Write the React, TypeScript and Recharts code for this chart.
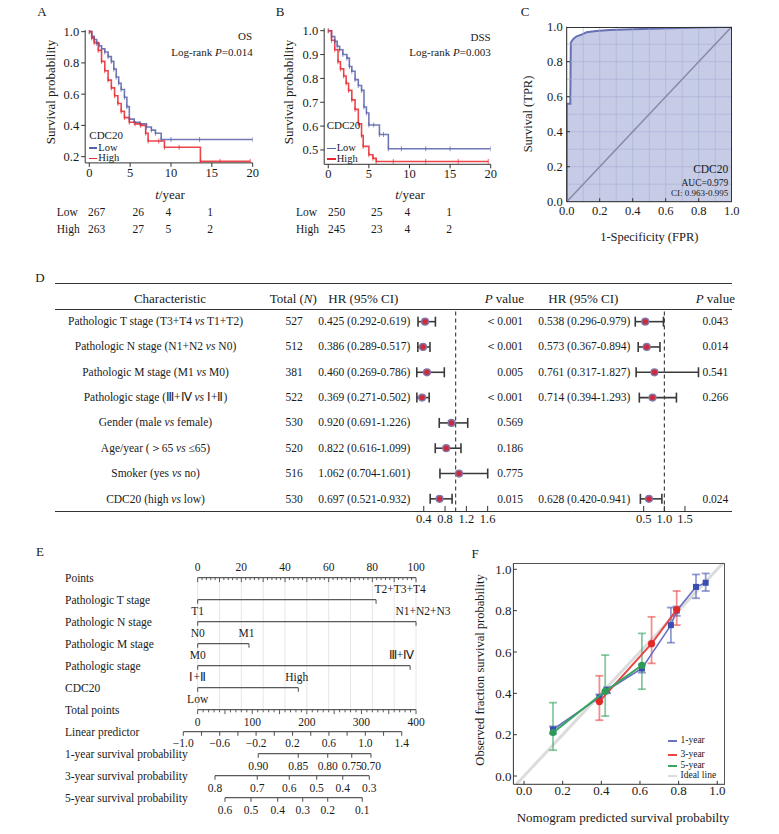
import React from "react";
import {
  LineChart,
  Line,
  AreaChart,
  Area,
  ScatterChart,
  Scatter,
  ComposedChart,
  XAxis,
  YAxis,
  ErrorBar,
  ReferenceLine,
  ReferenceDot,
} from "recharts";

const FONT = '"Liberation Serif", "Times New Roman", serif';
const INK = "#1a1a1a";
const KM_BLUE = "#5862aa";
const KM_RED = "#e8262d";

// ---- A: overall survival (Kaplan-Meier) ----
const osLowT = [0, 0.3, 0.6, 0.9, 1.2, 1.5, 1.9, 2.3, 2.7, 3.0, 3.3, 3.6, 3.9, 4.3, 4.6, 4.9, 5.5, 6.2, 7.0, 7.6, 8.1, 8.8, 10, 13.5, 20];
const osLowS = [1, 0.97, 0.95, 0.925, 0.91, 0.89, 0.87, 0.84, 0.81, 0.76, 0.71, 0.67, 0.63, 0.58, 0.52, 0.44, 0.42, 0.41, 0.39, 0.37, 0.35, 0.31, 0.31, 0.31, 0.31];
const osHighT = [0, 0.3, 0.6, 1.1, 1.5, 1.9, 2.3, 2.7, 3.1, 3.5, 3.9, 4.3, 4.9, 5.6, 6.3, 6.9, 7.2, 8.5, 9.2, 11, 13.6, 16, 19.7];
const osHighS = [1, 0.96, 0.93, 0.88, 0.81, 0.75, 0.69, 0.64, 0.59, 0.54, 0.49, 0.45, 0.42, 0.41, 0.4, 0.35, 0.3, 0.3, 0.26, 0.26, 0.17, 0.17, 0.17];
const osRiskLow = [267, 26, 4, 1];
const osRiskHigh = [263, 27, 5, 2];

// ---- B: disease-specific survival ----
const dssLowT = [0, 0.4, 0.8, 1.1, 1.4, 1.8, 2.3, 2.6, 2.9, 3.3, 3.7, 4.1, 4.4, 4.7, 5.0, 5.6, 6.3, 6.8, 7.4, 9, 12, 15, 20];
const dssLowS = [1, 0.975, 0.955, 0.935, 0.92, 0.9, 0.885, 0.85, 0.83, 0.795, 0.77, 0.75, 0.68, 0.655, 0.605, 0.605, 0.565, 0.565, 0.505, 0.505, 0.505, 0.505, 0.505];
const dssHighT = [0, 0.4, 0.8, 1.2, 1.5, 1.9, 2.2, 2.5, 2.9, 3.3, 3.7, 4.1, 4.3, 5.0, 5.5, 5.9, 8, 12, 16, 19.7];
const dssHighS = [1, 0.96, 0.92, 0.87, 0.84, 0.81, 0.78, 0.75, 0.71, 0.67, 0.61, 0.56, 0.515, 0.48, 0.465, 0.452, 0.452, 0.452, 0.452, 0.452];
const dssRiskLow = [250, 25, 4, 1];
const dssRiskHigh = [245, 23, 4, 2];

// ---- C: ROC ----
const rocFpr = [0, 0, 0.022, 0.022, 0.025, 0.04, 0.06, 0.09, 0.12, 0.18, 0.26, 0.4, 0.57, 0.8, 1];
const rocTpr = [0, 0.56, 0.56, 0.6, 0.91, 0.93, 0.945, 0.955, 0.968, 0.975, 0.981, 0.985, 0.99, 0.995, 1];
const unitTicks = [0, 0.2, 0.4, 0.6, 0.8, 1.0];

// ---- D: Cox regression ----
const characteristics = [
  "Pathologic T stage (T3+T4 | T1+T2)",
  "Pathologic N stage (N1+N2 | N0)",
  "Pathologic M stage (M1 | M0)",
  "Pathologic stage (Ⅲ+Ⅳ |  Ⅰ+Ⅱ)",
  "Gender (male | female)",
  "Age/year (＞65 | ≤65)",
  "Smoker (yes | no)",
  "CDC20 (high | low)",
];
const totals = [527, 512, 381, 522, 530, 520, 516, 530];
const uniHr = [0.425, 0.386, 0.46, 0.369, 0.92, 0.822, 1.062, 0.697];
const uniLo = [0.292, 0.289, 0.269, 0.271, 0.691, 0.616, 0.704, 0.521];
const uniHi = [0.619, 0.517, 0.786, 0.502, 1.226, 1.099, 1.601, 0.932];
const uniP = ["＜0.001", "＜0.001", "0.005", "＜0.001", "0.569", "0.186", "0.775", "0.015"];
const multiRow = [0, 1, 2, 3, 7];
const multiHr = [0.538, 0.573, 0.761, 0.714, 0.628];
const multiLo = [0.296, 0.367, 0.317, 0.394, 0.42];
const multiHi = [0.979, 0.894, 1.827, 1.293, 0.941];
const multiP = ["0.043", "0.014", "0.541", "0.266", "0.024"];
const uniTicks = [0.4, 0.8, 1.2, 1.6];
const multiTicks = [0.5, 1.0, 1.5];

// ---- E: nomogram ----
const nomoRows = [
  "Points",
  "Pathologic T stage",
  "Pathologic N stage",
  "Pathologic M stage",
  "Pathologic stage",
  "CDC20",
  "Total points",
  "Linear predictor",
  "1-year survival probability",
  "3-year survival probability",
  "5-year survival probability",
];
const varLow = ["T1", "N0", "M0", "Ⅰ+Ⅱ", "Low"];
const varHigh = ["T2+T3+T4", "N1+N2+N3", "M1", "Ⅲ+Ⅳ", "High"];
const varPoints = [81.7, 100, 23.5, 97.3, 46.1];
const pointLabels = [0, 20, 40, 60, 80, 100];
const totalLabels = [0, 100, 200, 300, 400];
const lpLabels = [-1.0, -0.6, -0.2, 0.2, 0.6, 1.0, 1.4];
const surv1Labels = ["0.90", "0.85", "0.80", "0.75", "0.70"];
const surv1At = [111, 184.3, 238.2, 282.2, 317.5];
const surv3Labels = ["0.8", "0.7", "0.6", "0.5", "0.4", "0.3"];
const surv3At = [31.7, 109.2, 167.8, 218, 265.7, 314.4];
const surv5Labels = ["0.6", "0.5", "0.4", "0.3", "0.2", "0.1"];
const surv5At = [50, 97.7, 146.6, 192.4, 238.2, 301.6];

// ---- F: calibration ----
const cal1Pred = [0.15, 0.39, 0.43, 0.61, 0.76, 0.79, 0.89, 0.94];
const cal1Obs = [0.225, 0.38, 0.415, 0.52, 0.73, 0.8, 0.915, 0.935];
const cal1Lo = [0.205, 0.36, 0.4, 0.5, 0.645, 0.775, 0.86, 0.895];
const cal1Hi = [0.24, 0.395, 0.43, 0.54, 0.815, 0.82, 0.975, 0.98];
const cal3Pred = [0.39, 0.66, 0.79];
const cal3Obs = [0.36, 0.64, 0.805];
const cal3Lo = [0.27, 0.545, 0.73];
const cal3Hi = [0.485, 0.77, 0.895];
const cal5Pred = [0.15, 0.42, 0.61];
const cal5Obs = [0.21, 0.41, 0.535];
const cal5Lo = [0.125, 0.29, 0.42];
const cal5Hi = [0.355, 0.585, 0.69];

// ---------- helpers ----------
const km = (t: number[], s: number[]) => t.map((v, i) => ({ t: v, s: s[i] }));
const withErr = (x: number[], y: number[], lo: number[], hi: number[]) =>
  x.map((v, i) => ({ x: v, y: y[i], err: [y[i] - lo[i], hi[i] - y[i]] }));
const range = (a: number, b: number, s: number) =>
  Array.from({ length: Math.round((b - a) / s) + 1 }, (_, i) => +(a + i * s).toFixed(4));
const fmt1 = (v: number) => v.toFixed(1);

// box = [left, top, width, height], plot = [x0, y0, x1, y1] in page px
const fit = (box: number[], plot: number[], yw = 0, xh = 0) => ({
  left: plot[0] - box[0] - yw,
  top: plot[1] - box[1],
  right: box[0] + box[2] - plot[2],
  bottom: box[1] + box[3] - plot[3] - xh,
});

const tick = (size: number) => ({ fill: INK, fontSize: size, fontFamily: FONT });

type TP = { x: number; y: number; a?: "start" | "middle" | "end"; s?: number; rot?: boolean; children: React.ReactNode };
function T({ x, y, a = "middle", s = 12, rot, children }: TP) {
  const tx = a === "start" ? "0%" : a === "end" ? "-100%" : "-50%";
  return (
    <div
      style={{
        position: "absolute",
        left: x,
        top: y,
        transform: `translate(${tx},-50%)${rot ? " rotate(-90deg)" : ""}`,
        fontSize: s,
        lineHeight: 1,
        whiteSpace: "nowrap",
        color: INK,
        fontFamily: FONT,
      }}>
      {children}
    </div>
  );
}

const Rule = ({ x, y, w, c = "#333" }: { x: number; y: number; w: number; c?: string }) => (
  <div style={{ position: "absolute", left: x, top: y, width: w, height: 0, borderTop: `1px solid ${c}` }} />
);

const censor = (c: string) => (p: any) => (
  <line key={`c${p.index}`} x1={p.cx} x2={p.cx} y1={p.cy - 2.5} y2={p.cy + 2.5} stroke={c} strokeWidth={1} strokeOpacity={0.7} />
);

function KM({ box, plot, yDomain, yTicks, low, high }: any) {
  return (
    <div style={{ position: "absolute", left: box[0], top: box[1] }}>
      <LineChart width={box[2]} height={box[3]} margin={fit(box, plot, 40, 20)}>
        <XAxis type="number" dataKey="t" domain={[-0.5, 20]} ticks={[0, 5, 10, 15, 20]} allowDataOverflow height={20} tickSize={4} tickMargin={1} stroke="#333" tick={tick(12.5)} />
        <YAxis type="number" dataKey="s" domain={yDomain} ticks={yTicks} allowDataOverflow width={40} tickSize={4} tickMargin={2} stroke="#333" tick={tick(12.5)} tickFormatter={fmt1} />
        <Line data={low} dataKey="s" type="stepAfter" stroke={KM_BLUE} strokeWidth={1.6} strokeOpacity={0.85} dot={censor(KM_BLUE)} isAnimationActive={false} />
        <Line data={high} dataKey="s" type="stepAfter" stroke={KM_RED} strokeWidth={1.6} strokeOpacity={0.85} dot={censor(KM_RED)} isAnimationActive={false} />
      </LineChart>
    </div>
  );
}

const forestDot = (p: any) => <circle cx={p.cx} cy={p.cy} r={3.4} fill="#cc2a3e" stroke="#8078a8" strokeWidth={1.4} />;

function Forest({ box, plot, domain, ticks, rows }: any) {
  return (
    <div style={{ position: "absolute", left: box[0], top: box[1] }}>
      <ScatterChart width={box[2]} height={box[3]} margin={fit(box, plot, 0, 18)}>
        <XAxis type="number" dataKey="x" domain={domain} ticks={ticks} allowDataOverflow axisLine={false} tickLine={false} tickSize={0} tickMargin={3} height={18} tick={tick(12.5)} tickFormatter={fmt1} />
        <YAxis type="number" dataKey="y" domain={[-0.5, 7.5]} reversed hide allowDataOverflow />
        <ReferenceLine x={1} stroke="#222" strokeDasharray="4 3" />
        {ticks.map((t: number) => (
          <ReferenceLine key={t} segment={[{ x: t, y: 7.5 }, { x: t, y: 7.28 }]} stroke="#333" />
        ))}
        <Scatter data={rows} shape={forestDot} isAnimationActive={false}>
          <ErrorBar dataKey="err" direction="x" width={5} stroke="#3a3a3a" strokeWidth={1.6} />
        </Scatter>
      </ScatterChart>
    </div>
  );
}

// nomogram building blocks
const NB = "#5a5a5a";
const seg = (key: string, ax: string, x1: number, y1: number, x2: number, y2: number, stroke = NB, w = 1.2) => (
  <ReferenceLine key={key} xAxisId={ax} segment={[{ x: x1, y: y1 }, { x: x2, y: y2 }]} stroke={stroke} strokeWidth={w} ifOverflow="visible" />
);
const lab = (key: string, ax: string, x: number, y: number, text: string) => (
  <ReferenceDot key={key} xAxisId={ax} x={x} y={y} r={0} ifOverflow="visible" label={{ value: text, position: "center", fill: INK, fontSize: 11.5, fontFamily: FONT }} />
);
const highShift = [11, 3.2, -1.1, -3.9, -0.7];
const signed = (v: number) => (v < 0 ? `−${Math.abs(v).toFixed(1)}` : v.toFixed(1));
const downTick = (p: any) => <line x1={p.cx} x2={p.cx} y1={p.cy} y2={p.cy + 4} stroke={NB} strokeWidth={1.1} />;

function Nomogram() {
  const box = [50, 530, 420, 304];
  const plot = [180.2, 533.7, 459.7, 830.7];
  const rows = varPoints.map((p, i) => ({ pts: p, row: i + 1 }));
  const starts = varPoints.map((_, i) => ({ pts: 0, row: i + 1 }));
  const survAxes = [
    { row: 8, at: surv1At, labels: surv1Labels },
    { row: 9, at: surv3At, labels: surv3Labels },
    { row: 10, at: surv5At, labels: surv5Labels },
  ];
  const survTicks = survAxes.flatMap((s) => s.at.map((v) => ({ tot: v, row: s.row })));
  const lpTicks = range(-1.0, 1.4, 0.2).map((v) => ({ lp: v, row: 7 }));
  return (
    <div style={{ position: "absolute", left: box[0], top: box[1] }}>
      <ComposedChart width={box[2]} height={box[3]} data={rows} margin={fit(box, plot, 130.2, 0)}>
        <XAxis xAxisId="pts" dataKey="pts" type="number" domain={[-8, 120]} allowDataOverflow hide />
        <XAxis xAxisId="tot" dataKey="tot" type="number" domain={[-32, 480]} allowDataOverflow hide />
        <XAxis xAxisId="lp" dataKey="lp" type="number" domain={[-1.034, 2.037]} allowDataOverflow hide />
        <YAxis
          type="number"
          dataKey="row"
          domain={[-2, 11.5]}
          reversed
          allowDataOverflow
          interval={0}
          ticks={nomoRows.map((_, i) => i)}
          width={130.2}
          axisLine={false}
          tickLine={false}
          tick={(p: any) => (
            <text x={15} y={p.y} dy="0.355em" fill={INK} fontSize={11.5} fontFamily={FONT}>
              {nomoRows[p.payload.value]}
            </text>
          )}
        />
        {range(0, 100, 10).map((v) => seg(`g${v}`, "pts", v, 0, v, 6, "#e6e6e6", 1))}
        {/* points axis */}
        {seg("pa", "pts", 0, 0, 100, 0)}
        {range(0, 100, 2).map((v) => seg(`pt${v}`, "pts", v, 0, v, v % 10 === 0 ? 0.2 : 0.11, NB, 1))}
        {pointLabels.map((v) => lab(`pl${v}`, "pts", v, -0.5, String(v)))}
        {/* predictors */}
        {varPoints.map((v, i) => seg(`v${i}`, "pts", 0, i + 1, v, i + 1))}
        {varHigh.map((t, i) => lab(`vh${i}`, "pts", varPoints[i] + highShift[i], i + 0.5, t))}
        {varLow.map((t, i) => lab(`vl${i}`, "pts", 0, i + 1.52, t))}
        <Scatter xAxisId="pts" data={rows} shape={downTick} isAnimationActive={false} />
        <Scatter xAxisId="pts" data={starts} shape={downTick} isAnimationActive={false} />
        {/* total points */}
        {seg("ta", "tot", 0, 6, 400, 6)}
        {range(0, 400, 10).map((v) => seg(`tt${v}`, "tot", v, 6, v, v % 50 === 0 ? 6.2 : 6.12, NB, 1))}
        {totalLabels.map((v) => lab(`tl${v}`, "tot", v, 6.55, String(v)))}
        {/* linear predictor */}
        {seg("la", "lp", -1.0, 7, 1.4, 7)}
        <Scatter xAxisId="lp" data={lpTicks} shape={downTick} isAnimationActive={false} />
        {lpLabels.map((v) => lab(`ll${v}`, "lp", v, 7.52, signed(v)))}
        {/* survival probability axes */}
        {survAxes.map((s) => seg(`sa${s.row}`, "tot", s.at[0], s.row, s.at[s.at.length - 1], s.row))}
        <Scatter xAxisId="tot" data={survTicks} shape={downTick} isAnimationActive={false} />
        {survAxes.map((s) => s.at.map((v, j) => lab(`sl${s.row}-${j}`, "tot", v, s.row + 0.55, s.labels[j])))}
      </ComposedChart>
    </div>
  );
}

const calSquare = (c: string) => (p: any) => <rect x={p.cx - 3} y={p.cy - 3} width={6} height={6} fill={c} />;
const calCircle = (c: string) => (p: any) => <circle cx={p.cx} cy={p.cy} r={3.6} fill={c} />;

// short tick marks drawn inside the plot frame
const innerTicks = (ticks: number[], x0: number, y0: number, dx: number, dy: number) => [
  ...ticks.map((t) => <ReferenceLine key={`ix${t}`} segment={[{ x: t, y: y0 }, { x: t, y: y0 + dy }]} stroke="#333" ifOverflow="visible" />),
  ...ticks.map((t) => <ReferenceLine key={`iy${t}`} segment={[{ x: x0, y: t }, { x: x0 + dx, y: t }]} stroke="#333" ifOverflow="visible" />),
];

export default function App() {
  const cBox = [510, 0, 250, 225];
  const cPlot = [566.7, 26.7, 731.7, 201.7];
  const fBox = [460, 540, 310, 294];
  const fPlot = [513.4, 563.1, 725, 784.3];
  const roc = rocFpr.map((f, i) => ({ fpr: f, tpr: rocTpr[i] }));
  const grid = range(0.1, 0.9, 0.1);
  const cal1 = withErr(cal1Pred, cal1Obs, cal1Lo, cal1Hi);
  const cal3 = withErr(cal3Pred, cal3Obs, cal3Lo, cal3Hi);
  const cal5 = withErr(cal5Pred, cal5Obs, cal5Lo, cal5Hi);
  const uniRows = uniHr.map((hr, i) => ({ x: hr, y: i, err: [hr - uniLo[i], uniHi[i] - hr] }));
  const multiRows = multiHr.map((hr, i) => ({ x: hr, y: multiRow[i], err: [hr - multiLo[i], multiHi[i] - hr] }));
  const rowY = (i: number) => 321.7 + i * 25.4;
  const riskX = [
    [96.7, 138.3, 168.3, 210],
    [336.7, 376.7, 407.3, 449],
  ];

  return (
    <div style={{ position: "absolute", left: 0, top: 0, width: 779, height: 834, background: "#fff", fontFamily: FONT, color: INK }}>
      {/* ===== A ===== */}
      <T x={42} y={11} s={13}>A</T>
      <KM box={[30, 0, 240, 200]} plot={[85.2, 30.1, 252.7, 162.9]} yDomain={[0.16, 1.01]} yTicks={[0.2, 0.4, 0.6, 0.8, 1.0]} low={km(osLowT, osLowS)} high={km(osHighT, osHighS)} />
      <T x={50} y={92} s={13} rot>Survival probability</T>
      <T x={252} y={36} a="end" s={11}>OS</T>
      <T x={252.7} y={52} a="end" s={11}>Log-rank <i>P</i>=0.014</T>
      <T x={89.3} y={135} a="start" s={11}>CDC20</T>
      <div style={{ position: "absolute", left: 89.3, top: 147.3, width: 7.5, height: 1.6, background: KM_BLUE }} />
      <div style={{ position: "absolute", left: 89.3, top: 157.5, width: 7.5, height: 1.6, background: KM_RED }} />
      <T x={98.3} y={147.5} a="start" s={10.5}>Low</T>
      <T x={98.3} y={158} a="start" s={10.5}>High</T>
      <T x={170} y={194} s={13}><i>t</i>/year</T>
      <T x={56.7} y={213.3} a="start" s={11.5}>Low</T>
      <T x={56.7} y={230} a="start" s={11.5}>High</T>
      {osRiskLow.map((v, i) => <T key={`ol${i}`} x={riskX[0][i]} y={213.3} s={11.5}>{v}</T>)}
      {osRiskHigh.map((v, i) => <T key={`oh${i}`} x={riskX[0][i]} y={230} s={11.5}>{v}</T>)}

      {/* ===== B ===== */}
      <T x={280} y={11} s={13}>B</T>
      <KM box={[270, 0, 240, 200]} plot={[324.2, 28.3, 490.7, 164.3]} yDomain={[0.44, 1.01]} yTicks={[0.5, 0.6, 0.7, 0.8, 0.9, 1.0]} low={km(dssLowT, dssLowS)} high={km(dssHighT, dssHighS)} />
      <T x={288.3} y={92} s={13} rot>Survival probability</T>
      <T x={490.7} y={36.5} a="end" s={11}>DSS</T>
      <T x={490.7} y={51.5} a="end" s={11}>Log-rank <i>P</i>=0.003</T>
      <T x={326.7} y={125} a="start" s={11}>CDC20</T>
      <div style={{ position: "absolute", left: 327, top: 147.6, width: 8.5, height: 1.6, background: KM_BLUE }} />
      <div style={{ position: "absolute", left: 327, top: 158, width: 8.5, height: 1.6, background: KM_RED }} />
      <T x={336.7} y={148.3} a="start" s={10.5}>Low</T>
      <T x={336.7} y={158.7} a="start" s={10.5}>High</T>
      <T x={410} y={194} s={13}><i>t</i>/year</T>
      <T x={296} y={213.3} a="start" s={11.5}>Low</T>
      <T x={296} y={230} a="start" s={11.5}>High</T>
      {dssRiskLow.map((v, i) => <T key={`dl${i}`} x={riskX[1][i]} y={213.3} s={11.5}>{v}</T>)}
      {dssRiskHigh.map((v, i) => <T key={`dh${i}`} x={riskX[1][i]} y={230} s={11.5}>{v}</T>)}

      {/* ===== C ===== */}
      <T x={525} y={11} s={13}>C</T>
      <div style={{ position: "absolute", left: cBox[0], top: cBox[1] }}>
        <AreaChart width={cBox[2]} height={cBox[3]} data={roc} margin={fit(cBox, cPlot, 40, 20)}>
          <XAxis type="number" dataKey="fpr" domain={[0, 1]} ticks={unitTicks} allowDataOverflow height={20} tickSize={0} tickMargin={4} stroke="#222" tick={tick(12.5)} tickFormatter={fmt1} />
          <YAxis type="number" domain={[0, 1]} ticks={unitTicks} allowDataOverflow width={40} tickSize={0} tickMargin={4} stroke="#222" tick={tick(12.5)} tickFormatter={fmt1} />
          <Area dataKey="tpr" type="linear" fill="#c7cce6" fillOpacity={1} stroke="#6670b2" strokeWidth={2} isAnimationActive={false} />
          {grid.map((g) => (
            <ReferenceLine key={`gx${g}`} x={g} stroke="#a7aed6" strokeOpacity={0.6} />
          ))}
          {grid.map((g) => (
            <ReferenceLine key={`gy${g}`} y={g} stroke="#a7aed6" strokeOpacity={0.6} />
          ))}
          <ReferenceLine segment={[{ x: 0, y: 0 }, { x: 1, y: 1 }]} stroke="#868aa6" strokeWidth={1.5} />
          {innerTicks(unitTicks.slice(1, 5), 0, 0, 0.02, 0.02)}
        </AreaChart>
      </div>
      <div style={{ position: "absolute", left: cPlot[0], top: cPlot[1], width: cPlot[2] - cPlot[0], height: cPlot[3] - cPlot[1], borderTop: "1px solid #333", borderRight: "1px solid #333", boxSizing: "border-box" }} />
      <T x={528.3} y={114} s={12.5} rot>Survival (TPR)</T>
      <T x={649.3} y={237} s={12.5}>1-Specificity (FPR)</T>
      <T x={728.3} y={170} a="end" s={11.5}>CDC20</T>
      <T x={728.3} y={184} a="end" s={9.5}>AUC=0.979</T>
      <T x={728.3} y={193} a="end" s={9}>CI: 0.963-0.995</T>

      {/* ===== D ===== */}
      <T x={40} y={277} s={13}>D</T>
      <Rule x={55} y={283} w={677} />
      <Rule x={55} y={309} w={677} />
      <Rule x={55} y={511} w={677} />
      <T x={170} y={297.7} s={13}>Characteristic</T>
      <T x={293.3} y={297.7} s={13}>Total (<i>N</i>)</T>
      <T x={363.3} y={297.7} s={13}>HR (95% CI)</T>
      <T x={524} y={297.7} a="end" s={13}><i>P</i> value</T>
      <T x={583.3} y={297.7} s={13}>HR (95% CI)</T>
      <T x={735} y={297.7} a="end" s={13}><i>P</i> value</T>
      {characteristics.map((c, i) => {
        const [a, b] = c.split(" | ");
        return (
          <T key={`ch${i}`} x={155.5} y={rowY(i)} s={11.5}>
            {a} <i>vs</i> {b}
          </T>
        );
      })}
      {totals.map((v, i) => <T key={`tn${i}`} x={302.7} y={rowY(i)} a="end" s={11.5}>{v}</T>)}
      {uniHr.map((v, i) => (
        <T key={`uh${i}`} x={318.3} y={rowY(i)} a="start" s={11.5}>
          {`${v.toFixed(3)} (${uniLo[i].toFixed(3)}-${uniHi[i].toFixed(3)})`}
        </T>
      ))}
      {uniP.map((v, i) => <T key={`up${i}`} x={523} y={rowY(i)} a="end" s={11.5}>{v}</T>)}
      {multiHr.map((v, i) => (
        <T key={`mh${i}`} x={538.3} y={rowY(multiRow[i])} a="start" s={11.5}>
          {`${v.toFixed(3)} (${multiLo[i].toFixed(3)}-${multiHi[i].toFixed(3)})`}
        </T>
      ))}
      {multiP.map((v, i) => <T key={`mp${i}`} x={728.3} y={rowY(multiRow[i])} a="end" s={11.5}>{v}</T>)}
      <Forest box={[405, 300, 110, 235]} plot={[413.1, 309, 498.3, 511.5]} domain={[0.2, 1.8]} ticks={uniTicks} rows={uniRows} />
      <Forest box={[620, 300, 100, 235]} plot={[631.3, 309, 701.5, 511.5]} domain={[0.2, 1.9]} ticks={multiTicks} rows={multiRows} />

      {/* ===== E ===== */}
      <T x={40} y={551} s={13}>E</T>
      <Nomogram />

      {/* ===== F ===== */}
      <T x={475} y={553} s={13}>F</T>
      <div style={{ position: "absolute", left: fBox[0], top: fBox[1] }}>
        <ScatterChart width={fBox[2]} height={fBox[3]} margin={fit(fBox, fPlot, 40, 16)}>
          <XAxis type="number" dataKey="x" domain={[-0.055, 1.04]} ticks={unitTicks} allowDataOverflow height={16} tickSize={0} tickMargin={1} stroke="#333" tick={tick(13)} tickFormatter={fmt1} />
          <YAxis type="number" dataKey="y" domain={[-0.04, 1.03]} ticks={unitTicks} allowDataOverflow width={40} tickSize={0} tickMargin={2} stroke="#333" tick={tick(13)} tickFormatter={fmt1} />
          <ReferenceLine segment={[{ x: -0.04, y: -0.04 }, { x: 1.03, y: 1.03 }]} stroke="#dcdcdc" strokeWidth={3} />
          {innerTicks(unitTicks, -0.055, -0.04, 0.018, 0.017)}
          <Scatter data={cal1} fill="#3a4db0" shape={calSquare("#3a4db0")} line={{ stroke: "#6a72c0", strokeWidth: 1.6 }} lineType="joint" isAnimationActive={false}>
            <ErrorBar dataKey="err" direction="y" width={4} stroke="#4a5ab0" strokeOpacity={0.6} strokeWidth={1.8} />
          </Scatter>
          <Scatter data={cal3} fill="#e03030" shape={calCircle("#e02a2a")} line={{ stroke: "#e84545", strokeWidth: 2 }} lineType="joint" isAnimationActive={false}>
            <ErrorBar dataKey="err" direction="y" width={4} stroke="#e84545" strokeOpacity={0.6} strokeWidth={1.8} />
          </Scatter>
          <Scatter data={cal5} fill="#2e9a58" shape={calCircle("#2e9a58")} line={{ stroke: "#3aa463", strokeWidth: 2 }} lineType="joint" isAnimationActive={false}>
            <ErrorBar dataKey="err" direction="y" width={4} stroke="#3aa463" strokeOpacity={0.6} strokeWidth={1.8} />
          </Scatter>
        </ScatterChart>
      </div>
      <div style={{ position: "absolute", left: fPlot[0], top: fPlot[1], width: fPlot[2] - fPlot[0], height: fPlot[3] - fPlot[1], borderTop: "1px solid #555", borderRight: "1px solid #555", boxSizing: "border-box" }} />
      <T x={480} y={670} s={12.5} rot>Observed fraction survival probability</T>
      <T x={623} y={817} s={13}>Nomogram predicted survival probabilty</T>
      {[
        { t: "1-year", c: "#6a72c0", y: 741 },
        { t: "3-year", c: "#e84545", y: 755 },
        { t: "5-year", c: "#3aa463", y: 766 },
        { t: "Ideal line", c: "#dcdcdc", y: 775.5 },
      ].map((l) => (
        <React.Fragment key={l.t}>
          <div style={{ position: "absolute", left: 668, top: l.y - 1, width: 9, height: 2, background: l.c }} />
          <T x={680.5} y={l.y} a="start" s={9.5}>{l.t}</T>
        </React.Fragment>
      ))}
    </div>
  );
}
